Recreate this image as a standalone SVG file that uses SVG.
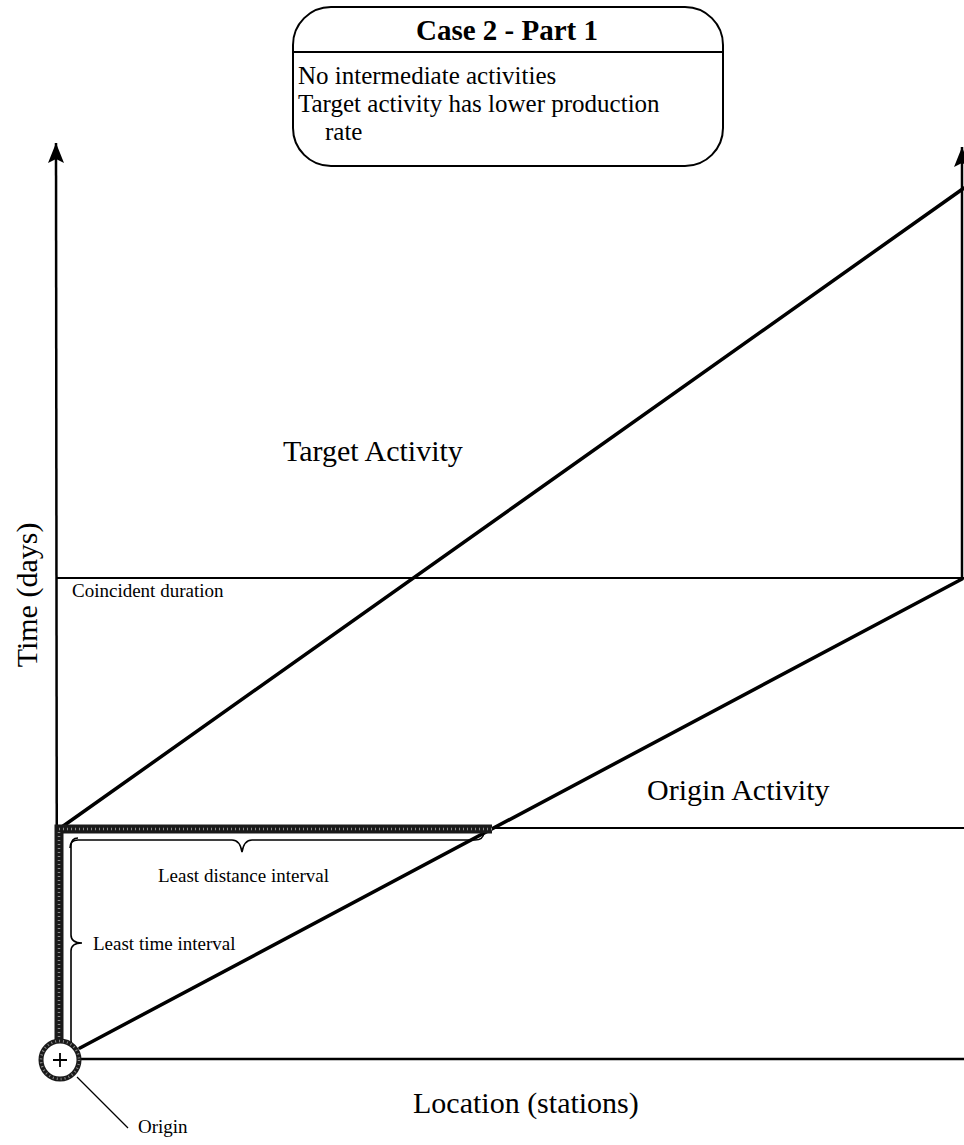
<svg xmlns="http://www.w3.org/2000/svg" width="964" height="1145" viewBox="0 0 964 1145">
<style>
text{font-family:"Liberation Serif","Times New Roman",serif;fill:#000}
.big{font-size:30px}
.small{font-size:19px}
.body{font-size:25px}
.title{font-size:29px;font-weight:bold}
.thin{stroke:#000;stroke-width:2;fill:none}
.axis{stroke:#000;stroke-width:2.5;fill:none}
.act{stroke:#000;stroke-width:3.5;fill:none;stroke-linecap:round}
.thick{stroke:#1a1a1a;stroke-width:9;fill:none}
.dots{stroke:#8a8a8a;stroke-width:2.5;stroke-dasharray:1 3;fill:none}
.brace{stroke:#000;stroke-width:1.6;fill:none}
</style>
<defs>
<marker id="ah" viewBox="0 0 20 16" refX="20" refY="8" markerWidth="20" markerHeight="16" orient="auto" markerUnits="userSpaceOnUse">
<path d="M0,0 L20,8 L0,16 L4,8 z" fill="#000"/>
</marker>
</defs>
<rect width="964" height="1145" fill="#fff"/>

<g id="title-box">
<rect x="293" y="7" width="430" height="159" rx="38" ry="38" fill="#fff" stroke="#000" stroke-width="2"/>
<line x1="293" y1="52" x2="723" y2="52" class="thin"/>
<text x="507" y="40" text-anchor="middle" class="title">Case 2 - Part 1</text>
<text x="298" y="84" class="body">No intermediate activities</text>
<text x="298" y="112" class="body">Target activity has lower production</text>
<text x="325" y="140" class="body">rate</text>
</g>

<g id="connectors">
<line x1="57" y1="1058" x2="56" y2="143" class="axis" marker-end="url(#ah)"/>
<line x1="962" y1="579" x2="962" y2="147" class="axis" marker-end="url(#ah)"/>
<line x1="80" y1="1059" x2="964" y2="1059" class="axis"/>
<line x1="57" y1="578" x2="964" y2="578" class="thin"/>
<line x1="59" y1="828" x2="964" y2="828" class="thin"/>
<line x1="59" y1="829" x2="964" y2="188" class="act"/>
<line x1="80" y1="1048" x2="962" y2="579" class="act"/>
<path d="M59,1041 L59,829 L492,829" class="thick"/>
<path d="M59,1041 L59,829 L492,829" class="dots"/>
<path d="M70,848 Q70,840 78,840 L232,840 Q240,840 242,852 Q244,840 252,840 L475,840 Q483,840 484,833" class="brace"/>
<path d="M78,838 Q71,838 71,846 L71,935 Q71,943 82,943 Q71,943 71,951 L71,1040 Q71,1048 77,1049" class="brace"/>
<line x1="77" y1="1077" x2="128" y2="1128" stroke="#000" stroke-width="1.3"/>
</g>

<g id="origin">
<circle cx="60" cy="1060" r="19" fill="#fff" stroke="#1a1a1a" stroke-width="5"/>
<circle cx="60" cy="1060" r="19" fill="none" class="dots"/>
<path d="M60,1053 V1067 M53,1060 H67" stroke="#000" stroke-width="1.8"/>
<text x="138" y="1133" class="small">Origin</text>
</g>

<g id="labels">
<text x="283" y="461" class="big">Target Activity</text>
<text x="647" y="800" class="big">Origin Activity</text>
<text x="413" y="1113" class="big">Location (stations)</text>
<text x="37" y="595" class="big" text-anchor="middle" transform="rotate(-90 37 595)">Time (days)</text>
<text x="72" y="597" class="small">Coincident duration</text>
<text x="158" y="882" class="small">Least distance interval</text>
<text x="93" y="950" class="small">Least time interval</text>
</g>
</svg>
